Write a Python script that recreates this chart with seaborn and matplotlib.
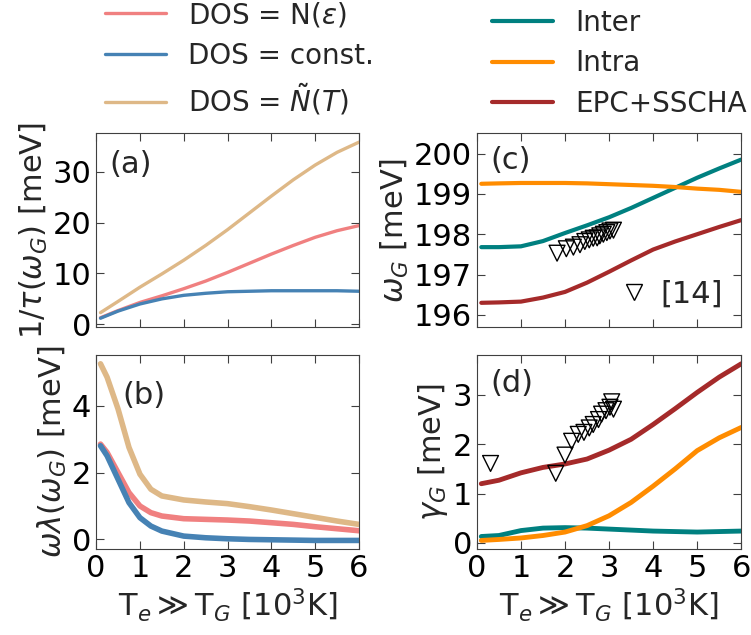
import numpy as np
import pandas as pd
import seaborn as sns
import matplotlib.pyplot as plt
from matplotlib.lines import Line2D

# x axis: T_e [10^3 K]
t_a = [0.1, 0.5, 1.0, 1.5, 2.0, 2.5, 3.0, 3.5, 4.0, 4.5, 5.0, 5.5, 6.0]
tau_tan = [2.3, 4.5, 7.3, 9.9, 12.6, 15.5, 18.6, 21.9, 25.2, 28.4, 31.3, 33.8, 35.8]
tau_red = [1.3, 2.7, 4.3, 5.6, 7.0, 8.5, 10.2, 12.0, 13.8, 15.5, 17.1, 18.4, 19.4]
tau_blue = [1.2, 2.6, 4.0, 5.0, 5.7, 6.1, 6.4, 6.5, 6.6, 6.6, 6.6, 6.6, 6.5]

t_b = [0.1, 0.25, 0.5, 0.75, 1.0, 1.25, 1.5, 2.0, 2.5, 3.0, 3.5, 4.0, 4.5, 5.0, 5.5, 6.0]
lam_tan = [5.25, 4.85, 3.9, 2.75, 1.95, 1.5, 1.3, 1.18, 1.12, 1.07, 0.98, 0.88, 0.77, 0.66, 0.55, 0.45]
lam_red = [2.85, 2.6, 2.0, 1.4, 1.0, 0.8, 0.7, 0.62, 0.6, 0.58, 0.55, 0.5, 0.45, 0.38, 0.32, 0.26]
lam_blue = [2.8, 2.5, 1.8, 1.1, 0.65, 0.4, 0.25, 0.1, 0.05, 0.02, 0.0, -0.01, -0.02, -0.03, -0.03, -0.03]

t_c = [0.1, 0.5, 1.0, 1.5, 2.0, 2.5, 3.0, 3.5, 4.0, 4.5, 5.0, 5.5, 6.0]
omg_inter = [197.68, 197.68, 197.70, 197.83, 198.03, 198.22, 198.42, 198.65, 198.9, 199.15, 199.4, 199.63, 199.85]
omg_intra = [199.25, 199.26, 199.27, 199.27, 199.27, 199.26, 199.24, 199.22, 199.2, 199.17, 199.13, 199.1, 199.05]
omg_epc = [196.3, 196.31, 196.33, 196.43, 196.57, 196.8, 197.07, 197.35, 197.62, 197.82, 198.0, 198.18, 198.35]

gam_inter = [0.13, 0.15, 0.25, 0.3, 0.31, 0.3, 0.28, 0.26, 0.24, 0.23, 0.22, 0.23, 0.24]
gam_intra = [0.05, 0.07, 0.1, 0.15, 0.22, 0.35, 0.55, 0.82, 1.15, 1.5, 1.87, 2.13, 2.34]
gam_epc = [1.2, 1.27, 1.42, 1.53, 1.6, 1.7, 1.88, 2.1, 2.4, 2.72, 3.05, 3.36, 3.63]

# experiment [14]
exp_t_c = [1.82, 2.03, 2.19, 2.34, 2.45, 2.55, 2.64, 2.73, 2.79, 2.87, 2.95, 3.02, 3.1]
exp_omg = [197.53, 197.64, 197.68, 197.74, 197.82, 197.86, 197.9, 197.91, 197.96, 198.0, 198.04, 198.08, 198.1]
exp_t_d = [0.31, 1.79, 2.0, 2.15, 2.3, 2.43, 2.55, 2.64, 2.76, 2.83, 2.93, 3.02, 3.06, 3.1]
exp_gam = [1.61, 1.41, 1.78, 2.06, 2.2, 2.24, 2.33, 2.4, 2.5, 2.61, 2.68, 2.75, 2.86, 2.71]

c_red, c_blue, c_tan = '#F08080', '#4682B4', '#DEB887'
c_inter, c_intra, c_epc = '#008080', '#FF8C00', '#A52A2A'

sns.set_style('ticks')
plt.rcParams['font.family'] = ['DejaVu Sans']
plt.rcParams.update({
    'font.size': 22,
    'axes.edgecolor': '0.25',
    'xtick.direction': 'in', 'ytick.direction': 'in',
    'xtick.top': True, 'ytick.right': True,
    'xtick.major.size': 6, 'ytick.major.size': 6,
    'xtick.color': '0.25', 'ytick.color': '0.25',
    'xtick.labelcolor': 'black', 'ytick.labelcolor': 'black',
    'xtick.labelsize': 22, 'ytick.labelsize': 22,
    'axes.labelsize': 22,
    'axes.labelpad': 2,
    'mathtext.fontset': 'dejavusans',
})

fig = plt.figure(figsize=(7.51, 6.35), dpi=100)
ax_a = fig.add_axes([0.128, 0.485, 0.350, 0.305])
ax_b = fig.add_axes([0.128, 0.135, 0.350, 0.306])
ax_c = fig.add_axes([0.635, 0.485, 0.352, 0.305])
ax_d = fig.add_axes([0.635, 0.135, 0.352, 0.306])

# (a)
sns.lineplot(x=t_a, y=tau_red, color=c_red, lw=2.4, ax=ax_a, label=r'DOS = N($\varepsilon$)')
sns.lineplot(x=t_a, y=tau_blue, color=c_blue, lw=2.4, ax=ax_a, label='DOS = const.')
sns.lineplot(x=t_a, y=tau_tan, color=c_tan, lw=2.4, ax=ax_a, label=r'DOS = $\tilde{N}(T)$')
ax_a.set_ylabel(r'$1/\tau(\omega_G)$ [meV]')
ax_a.set_yticks([0, 10, 20, 30])
ax_a.legend(loc='lower center', bbox_to_anchor=(0.545, 0.98), frameon=False,
            fontsize=20, handlelength=2.2, borderaxespad=0.3, labelspacing=0.45)
ax_a.text(0.05, 0.84, '(a)', transform=ax_a.transAxes, fontsize=22, va='center')

# (b)
sns.lineplot(x=t_b, y=lam_tan, color=c_tan, lw=4, ax=ax_b)
sns.lineplot(x=t_b, y=lam_red, color=c_red, lw=4, ax=ax_b)
sns.lineplot(x=t_b, y=lam_blue, color=c_blue, lw=4, ax=ax_b)
ax_b.set_ylabel(r'$\omega\lambda(\omega_G)$ [meV]')
ax_b.set_yticks([0, 2, 4])
ax_b.text(0.1, 0.79, '(b)', transform=ax_b.transAxes, fontsize=22, va='center')

# (c)
sns.lineplot(x=t_c, y=omg_inter, color=c_inter, lw=3, ax=ax_c, label='Inter')
sns.lineplot(x=t_c, y=omg_intra, color=c_intra, lw=3, ax=ax_c, label='Intra')
sns.lineplot(x=t_c, y=omg_epc, color=c_epc, lw=3, ax=ax_c, label='EPC+SSCHA')
sns.scatterplot(x=exp_t_c, y=exp_omg, marker='v', s=130, facecolor='none',
                edgecolor='black', linewidth=1.0, ax=ax_c, zorder=5)
ax_c.set_ylim(195.7, 200.5)
ax_c.set_yticks([196, 197, 198, 199, 200])
ax_c.set_ylabel(r'$\omega_G$ [meV]')
lines_c = ax_c.get_lines()[:3]
leg_c = ax_c.legend(handles=lines_c, loc='lower center', bbox_to_anchor=(0.54, 0.98),
                    frameon=False, fontsize=20, handlelength=2.2, borderaxespad=0.3,
                    labelspacing=0.45)
ax_c.add_artist(leg_c)
exp_handle = Line2D([], [], marker='v', ls='none', markersize=12, markerfacecolor='none',
                    markeredgecolor='black')
ax_c.legend(handles=[exp_handle], labels=['[14]'], loc='lower right', frameon=False,
            fontsize=22, handlelength=1.0, handletextpad=0.35, borderaxespad=0.2)
ax_c.text(0.05, 0.86, '(c)', transform=ax_c.transAxes, fontsize=22, va='center')

# (d)
sns.lineplot(x=t_c, y=gam_inter, color=c_inter, lw=3.5, ax=ax_d)
sns.lineplot(x=t_c, y=gam_intra, color=c_intra, lw=3.5, ax=ax_d)
sns.lineplot(x=t_c, y=gam_epc, color=c_epc, lw=3.5, ax=ax_d)
sns.scatterplot(x=exp_t_d, y=exp_gam, marker='v', s=130, facecolor='none',
                edgecolor='black', linewidth=1.0, ax=ax_d, zorder=5)
ax_d.set_yticks([0, 1, 2, 3])
ax_d.set_ylabel(r'$\gamma_G$ [meV]')
ax_d.text(0.05, 0.855, '(d)', transform=ax_d.transAxes, fontsize=22, va='center')

for ax in (ax_a, ax_b, ax_c, ax_d):
    ax.set_xlim(0, 6)
    ax.set_xticks([0, 1, 2, 3, 4, 5, 6])
for ax in (ax_a, ax_c):
    ax.tick_params(labelbottom=False)
for ax in (ax_b, ax_d):
    ax.set_xlabel(r'T$_e\gg$T$_G$ [10$^3$K]')

fig.savefig('out.png', dpi=100)
